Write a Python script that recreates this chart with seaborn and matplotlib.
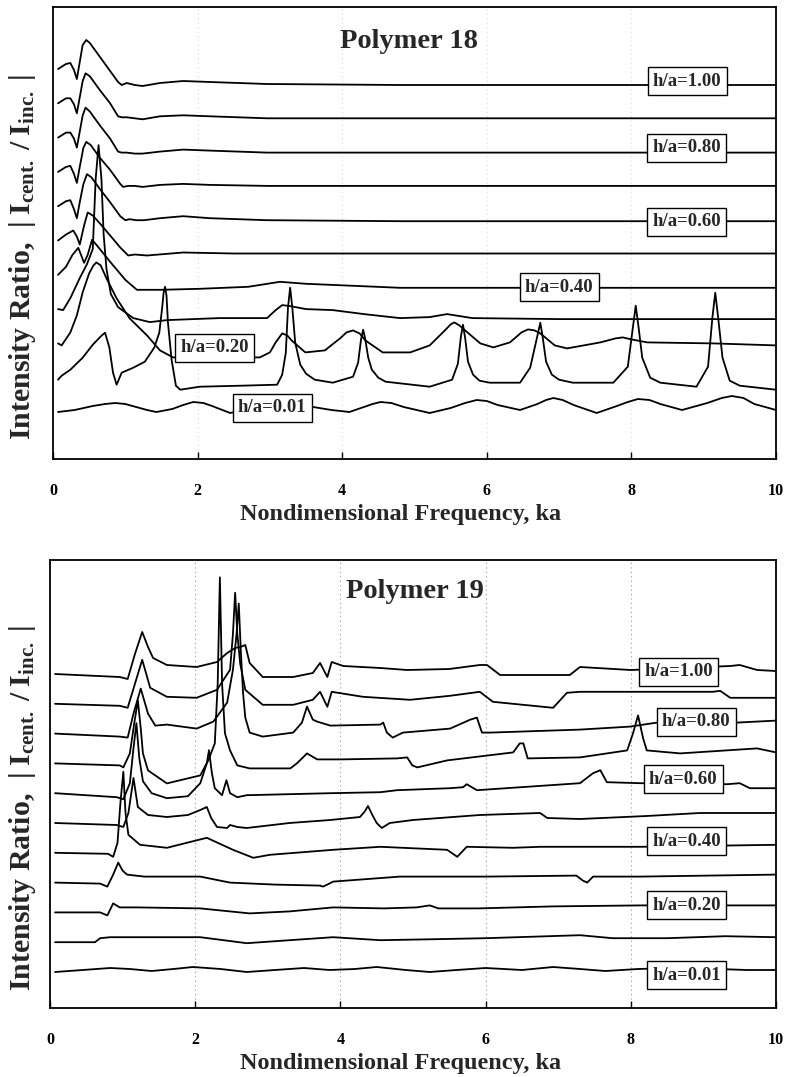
import matplotlib
matplotlib.use("Agg")
import matplotlib.pyplot as plt
import pandas as pd
import seaborn as sns

# ---------------- data ----------------
HA_LABELS = ["0.01", "0.10", "0.20", "0.30", "0.40", "0.50", "0.60", "0.70", "0.80", "0.90", "1.00"]
XTICKS = [0, 2, 4, 6, 8, 10]

# Polymer 18 (values relative to each curve's own baseline)
P18_X_001 = [0.07, 0.3, 0.55, 0.72, 0.86, 1.0, 1.15, 1.3, 1.43, 1.65, 1.8, 1.94, 2.08, 2.2, 2.45, 3.0, 3.6, 3.85, 4.1, 4.3, 4.42, 4.53, 4.68, 4.85, 5.21, 5.5, 5.7, 5.86, 6.0, 6.15, 6.46, 6.7, 6.82, 6.92, 7.05, 7.2, 7.52, 7.8, 7.95, 8.09, 8.25, 8.4, 8.7, 9.05, 9.25, 9.39, 9.55, 9.7, 10.0]
P18_Y_001 = [0, 2, 6, 8, 9, 8, 5, 2, 0, 3, 7, 10, 9, 6, -1, 8, 5, 2, 0, 5, 8, 10, 9, 5, -1, 4, 9, 12, 11, 7, 2, 8, 12, 14, 12, 7, -1, 6, 10, 13, 12, 8, 2, 9, 14, 16, 14, 8, 2]
P18_X_010 = [0.07, 0.12, 0.18, 0.24, 0.41, 0.55, 0.67, 0.72, 0.78, 0.83, 0.88, 0.95, 1.11, 1.27, 1.40, 1.47, 1.51, 1.53, 1.55, 1.57, 1.59, 1.64, 1.70, 1.76, 2.03, 2.6, 3.10, 3.17, 3.22, 3.25, 3.28, 3.31, 3.35, 3.42, 3.5, 3.62, 3.87, 4.15, 4.22, 4.26, 4.29, 4.32, 4.36, 4.41, 4.5, 4.60, 5.21, 5.52, 5.60, 5.64, 5.67, 5.70, 5.74, 5.81, 5.9, 6.04, 6.46, 6.60, 6.70, 6.74, 6.77, 6.82, 6.90, 7.0, 7.19, 7.75, 7.95, 8.02, 8.06, 8.10, 8.15, 8.26, 8.4, 8.90, 9.06, 9.12, 9.16, 9.20, 9.26, 9.36, 9.5, 10.0]
P18_Y_010 = [-2, 2, 5, 8, 20, 33, 42, 45, 30, 5, -7, 5, 10, 16, 30, 45, 70, 85, 91, 82, 55, 18, -8, -12, -9, -8, -7, 3, 25, 70, 90, 70, 35, 13, 4, -2, -5, 1, 15, 38, 48, 38, 20, 8, 0, -4, -9, -2, 14, 40, 53, 40, 16, 3, -3, -5, -5, 10, 42, 55, 42, 16, 3, -2, -5, -5, 11, 50, 72, 50, 20, 0, -5, -9, 11, 60, 85, 60, 20, -3, -8, -12]
P18_X_020 = [0.07, 0.12, 0.24, 0.33, 0.41, 0.50, 0.56, 0.60, 0.66, 0.74, 0.88, 1.06, 1.30, 1.48, 1.66, 2.20, 2.86, 3.00, 3.08, 3.17, 3.24, 3.30, 3.49, 3.76, 3.97, 4.06, 4.15, 4.24, 4.32, 4.56, 4.94, 5.21, 5.42, 5.50, 5.55, 5.62, 5.70, 5.91, 6.09, 6.32, 6.48, 6.57, 6.66, 6.74, 6.94, 7.11, 7.57, 7.78, 7.88, 8.0, 8.22, 9.13, 10.0]
P18_Y_020 = [0, -2, 11, 28, 51, 70, 78, 81, 78, 65, 45, 25, 8, -7, -14, -14, -14, -9, 1, 10, 8, 3, -9, -7, 5, 11, 13, 10, 3, -9, -9, -2, 13, 19, 21, 18, 13, 0, -4, 1, 11, 14, 13, 10, -2, -5, 1, 5, 6, 4, 1, 0, -2]
P18_X_030 = [0.07, 0.14, 0.24, 0.37, 0.47, 0.55, 0.59, 0.63, 0.67, 0.70, 0.74, 0.80, 0.90, 1.11, 1.34, 1.58, 2.30, 2.96, 3.08, 3.17, 3.28, 3.50, 3.87, 4.30, 4.80, 5.21, 5.45, 5.80, 7.0, 10.0]
P18_Y_030 = [0, -1, 11, 31, 45, 60, 130, 164, 130, 75, 40, 15, 2, -9, -13, -11, -9, -9, -1, 4, 3, 0, -1, -5, -9, -8, -5, -9, -10, -10]
P18_X_040 = [0.07, 0.18, 0.27, 0.35, 0.43, 0.48, 0.54, 0.60, 0.79, 1.00, 1.16, 1.50, 2.03, 2.70, 3.14, 3.50, 3.83, 4.80, 10.0]
P18_Y_040 = [0, 8, 20, 27, 12, 20, 35, 30, 13, -5, -15, -15, -14, -12, -7, -9, -10, -13, -13]
P18_X_050 = [0.07, 0.18, 0.28, 0.33, 0.37, 0.43, 0.48, 0.55, 0.65, 0.79, 0.93, 1.04, 1.13, 1.30, 1.80, 2.5, 4.8, 10.0]
P18_Y_050 = [0, 6, 10, 4, -4, 15, 28, 25, 17, 5, -7, -15, -14, -15, -12, -13, -13, -13]
P18_X_060 = [0.07, 0.18, 0.24, 0.29, 0.33, 0.37, 0.42, 0.47, 0.53, 0.65, 0.79, 0.93, 1.00, 1.06, 1.15, 1.26, 1.48, 1.80, 2.17, 2.96, 4.80, 10.0]
P18_Y_060 = [0, 5, 6, -3, -12, 4, 22, 32, 29, 17, 4, -10, -14, -13, -14, -14, -12, -10, -12, -14, -15, -15]
P18_X_070 = [0.07, 0.18, 0.24, 0.29, 0.33, 0.37, 0.42, 0.46, 0.52, 0.65, 0.79, 0.93, 0.97, 1.04, 1.13, 1.24, 1.48, 1.80, 2.17, 2.96, 4.80, 10.0]
P18_Y_070 = [0, 5, 6, -2, -11, 5, 24, 30, 27, 14, 2, -12, -15, -14, -14, -15, -13, -12, -13, -14, -14, -14]
P18_X_080 = [0.07, 0.18, 0.24, 0.29, 0.33, 0.37, 0.41, 0.45, 0.51, 0.65, 0.79, 0.90, 0.95, 1.02, 1.13, 1.24, 1.48, 1.80, 2.17, 2.96, 4.80, 10.0]
P18_Y_080 = [0, 5, 5, -1, -10, 6, 22, 30, 26, 12, -1, -14, -15, -15, -16, -16, -14, -12, -13, -15, -15, -15]
P18_X_090 = [0.07, 0.18, 0.24, 0.29, 0.33, 0.37, 0.41, 0.45, 0.51, 0.65, 0.79, 0.90, 0.95, 1.02, 1.13, 1.24, 1.48, 1.80, 2.17, 2.96, 4.80, 10.0]
P18_Y_090 = [0, 5, 5, -1, -10, 6, 22, 30, 27, 13, 0, -13, -14, -14, -15, -16, -13, -12, -13, -15, -15, -15]
P18_X_100 = [0.07, 0.18, 0.24, 0.29, 0.33, 0.37, 0.41, 0.46, 0.51, 0.65, 0.79, 0.90, 0.95, 1.02, 1.13, 1.24, 1.48, 1.80, 2.17, 2.96, 4.80, 10.0]
P18_Y_100 = [0, 5, 6, -1, -10, 7, 24, 29, 26, 12, -2, -13, -16, -14, -16, -17, -14, -12, -13, -15, -16, -16]

# Polymer 19
P19_X_001 = [0.07, 0.45, 0.83, 1.1, 1.4, 1.7, 1.97, 2.35, 2.71, 3.1, 3.5, 3.85, 4.2, 4.5, 4.9, 5.23, 5.6, 6.0, 6.5, 6.93, 7.3, 7.65, 8.1, 8.6, 9.2, 9.6, 10.0]
P19_Y_001 = [0, 2, 4, 3, 1, 3, 5, 3, 0, 2, 4, 2, 3, 5, 2, 0, 2, 4, 2, 5, 3, 1, 3, 4, 3, 2, 2]
P19_X_010 = [0.07, 0.62, 0.69, 0.83, 1.3, 2.07, 2.71, 3.3, 3.90, 4.55, 5.3, 6.0, 7.30, 7.75, 8.5, 9.3, 10.0]
P19_Y_010 = [0, 0, 4, 5, 5, 5, -1, 2, 5, 2, 3, 4, 7, 4, 4, 6, 5]
P19_X_020 = [0.07, 0.69, 0.79, 0.87, 0.96, 1.2, 2.07, 2.75, 3.3, 3.90, 4.6, 5.05, 5.23, 5.35, 5.9, 6.93, 8.13, 10.0]
P19_Y_020 = [0, 0, -3, 9, 5, 5, 4, -1, 1, 5, 4, 5, 7, 4, 4, 6, 7, 7]
P19_X_030 = [0.07, 0.69, 0.79, 0.87, 0.94, 1.00, 1.06, 1.30, 2.07, 2.48, 3.10, 3.72, 3.76, 3.82, 3.90, 4.82, 6.0, 7.25, 7.34, 7.40, 7.48, 8.13, 10.0]
P19_Y_030 = [0, -1, -4, 8, 20, 12, 8, 6, 6, 0, -2, -3, -4, -2, 1, 6, 6, 7, 2, 0, 6, 6, 8]
P19_X_040 = [0.07, 0.80, 0.87, 0.93, 0.97, 1.01, 1.04, 1.08, 1.24, 1.61, 2.16, 2.52, 2.80, 3.03, 3.90, 4.55, 5.47, 5.61, 5.74, 6.38, 6.75, 8.13, 10.0]
P19_Y_040 = [0, -1, -4, 10, 50, 81, 40, 18, 8, 5, 15, 3, -5, -2, 3, 6, 3, -4, 6, 5, 6, 6, 8]
P19_X_050 = [0.07, 0.92, 1.01, 1.08, 1.15, 1.21, 1.35, 1.61, 1.90, 2.07, 2.16, 2.22, 2.30, 2.44, 2.48, 2.58, 2.71, 3.3, 3.86, 4.27, 4.34, 4.38, 4.44, 4.50, 4.57, 4.68, 5.0, 5.92, 6.75, 6.85, 7.30, 8.22, 8.95, 10.0]
P19_Y_050 = [0, -2, -4, 10, 45, 16, 8, 6, 8, 13, 16, 5, -4, -5, -2, -4, -5, 0, 3, 6, 12, 17, 8, 0, -5, 0, 3, 8, 10, 5, 4, 7, 10, 10]
P19_X_060 = [0.07, 0.92, 1.01, 1.10, 1.15, 1.19, 1.23, 1.28, 1.40, 1.61, 1.90, 2.07, 2.16, 2.19, 2.23, 2.27, 2.37, 2.43, 2.48, 2.58, 2.71, 3.86, 4.55, 4.78, 5.51, 5.69, 5.74, 5.88, 7.30, 7.48, 7.58, 7.67, 8.13, 9.33, 9.50, 9.64, 10.0]
P19_Y_060 = [0, -4, -6, 10, 45, 70, 35, 12, 0, -5, -3, 10, 30, 43, 20, 5, -2, 13, 0, -4, -2, 0, 1, 3, 5, 6, 9, 3, 10, 20, 23, 11, 10, 9, 10, 5, 5]
P19_X_070 = [0.07, 0.96, 1.01, 1.10, 1.16, 1.21, 1.25, 1.28, 1.35, 1.61, 2.07, 2.18, 2.27, 2.31, 2.34, 2.37, 2.41, 2.48, 2.58, 2.75, 3.31, 3.40, 3.54, 3.68, 4.00, 4.78, 4.92, 4.99, 5.06, 5.47, 6.38, 6.47, 6.52, 6.58, 7.30, 7.95, 8.03, 8.10, 8.17, 8.22, 8.68, 9.74, 10.0]
P19_Y_070 = [0, -2, -4, 10, 40, 63, 35, 10, -7, -20, -12, 3, 20, 80, 186, 80, 30, 13, -2, -5, -5, 0, 10, 4, 4, 5, 6, -2, -4, 3, 11, 20, 20, 5, 6, 13, 30, 48, 25, 13, 10, 15, 11]
P19_X_080 = [0.07, 0.96, 1.07, 1.15, 1.25, 1.35, 1.45, 1.61, 2.02, 2.25, 2.44, 2.52, 2.57, 2.60, 2.63, 2.66, 2.69, 2.75, 2.93, 3.35, 3.47, 3.54, 3.62, 3.68, 3.86, 4.55, 4.59, 4.64, 4.72, 4.86, 5.51, 5.79, 5.88, 5.95, 6.06, 7.30, 7.99, 8.36, 9.46, 10.0]
P19_Y_080 = [0, -3, -4, 20, 45, 20, 8, 9, 5, 12, 31, 64, 100, 130, 80, 40, 16, 1, -3, 1, 11, 27, 14, 12, 8, 9, 11, 1, -4, 1, 5, 14, 16, 1, 1, 4, 7, 11, 11, 13]
P19_X_090 = [0.07, 0.96, 1.07, 1.17, 1.27, 1.38, 1.61, 2.02, 2.30, 2.48, 2.52, 2.55, 2.58, 2.62, 2.69, 2.93, 3.35, 3.62, 3.72, 3.82, 3.88, 4.31, 4.96, 5.51, 5.92, 6.10, 6.93, 7.12, 7.30, 9.13, 9.23, 9.37, 10.0]
P19_Y_090 = [0, -2, -4, 20, 44, 16, 7, 6, 14, 34, 70, 111, 70, 40, 14, -1, -1, 4, 12, -3, 12, 7, 4, 8, 12, 2, -4, 11, 12, 12, 13, 6, 6]
P19_X_100 = [0.07, 0.96, 1.07, 1.17, 1.27, 1.35, 1.42, 1.61, 2.02, 2.30, 2.44, 2.55, 2.62, 2.69, 2.75, 2.93, 3.35, 3.62, 3.72, 3.82, 3.88, 4.04, 4.55, 4.92, 5.5, 5.92, 6.02, 6.20, 7.16, 7.30, 8.0, 9.37, 9.50, 9.74, 10.0]
P19_Y_100 = [0, -3, -5, 20, 42, 27, 16, 9, 7, 12, 21, 26, 27, 29, 11, -3, -3, 1, 11, -3, 12, 8, 6, 4, 5, 9, 9, -1, -1, 7, 4, 8, 9, 4, 3]

P18_X = [P18_X_001, P18_X_010, P18_X_020, P18_X_030, P18_X_040, P18_X_050, P18_X_060, P18_X_070, P18_X_080, P18_X_090, P18_X_100]
P18_Y = [P18_Y_001, P18_Y_010, P18_Y_020, P18_Y_030, P18_Y_040, P18_Y_050, P18_Y_060, P18_Y_070, P18_Y_080, P18_Y_090, P18_Y_100]
P19_X = [P19_X_001, P19_X_010, P19_X_020, P19_X_030, P19_X_040, P19_X_050, P19_X_060, P19_X_070, P19_X_080, P19_X_090, P19_X_100]
P19_Y = [P19_Y_001, P19_Y_010, P19_Y_020, P19_Y_030, P19_Y_040, P19_Y_050, P19_Y_060, P19_Y_070, P19_Y_080, P19_Y_090, P19_Y_100]

# labelled curves and where their tags sit (x in ka, y in plot units)
P18_TAGS = [("1.00", 8.77, 378), ("0.80", 8.76, 311), ("0.60", 8.76, 237), ("0.40", 7.0, 172), ("0.20", 2.24, 111), ("0.01", 3.03, 51)]
P19_TAGS = [("1.00", 8.66, 336), ("0.80", 8.90, 286), ("0.60", 8.72, 229), ("0.40", 8.77, 167), ("0.20", 8.77, 103), ("0.01", 8.77, 33)]

# ---------------- style ----------------
sns.set_theme(style="white")
plt.rcParams["font.family"] = ["Liberation Serif", "DejaVu Serif"]
plt.rcParams["font.weight"] = "bold"
plt.rcParams["mathtext.fontset"] = "custom"
plt.rcParams["mathtext.rm"] = "Liberation Serif:bold"
plt.rcParams["mathtext.bf"] = "Liberation Serif:bold"
plt.rcParams["mathtext.it"] = "Liberation Serif:bold:italic"

W, H = 787, 1077
fig = plt.figure(figsize=(W / 100, H / 100), dpi=100)
fig.patch.set_facecolor("white")
ax1 = fig.add_axes([53 / W, 1 - 459 / H, (776 - 53) / W, (459 - 7) / H])
ax2 = fig.add_axes([50 / W, 1 - 1008 / H, (776 - 50) / W, (1008 - 560) / H])

YLABEL = r"Intensity Ratio,  $|\;\mathbf{I}_{\mathbf{cent.}}\;/\;\mathbf{I}_{\mathbf{inc.}}\;|$"


def build(xs, ys, start, step):
    rows = []
    for k, (x, y) in enumerate(zip(xs, ys)):
        for xi, yi in zip(x, y):
            rows.append((HA_LABELS[k], xi, yi + start + step * k))
    return pd.DataFrame(rows, columns=["ha", "x", "y"])


def draw(ax, df, tags, title, ylim, grid_color, title_pos):
    for gx in [2, 4, 6, 8]:
        ax.axvline(gx, color=grid_color, lw=0.8, ls=(0, (1, 3)), zorder=0)
    sns.lineplot(data=df, x="x", y="y", units="ha", estimator=None, sort=False,
                 color="black", linewidth=1.3, legend=False, ax=ax, zorder=2)
    for lab, tx, ty in tags:
        ax.text(tx, ty, f"h/a={lab}", ha="center", va="center", fontsize=13.5, fontweight="bold",
                zorder=5, bbox=dict(boxstyle="square,pad=0.28", fc="white", ec="black", lw=1.0))
    ax.text(title_pos[0], title_pos[1], title, transform=ax.transAxes, ha="center", va="baseline",
            fontsize=20.5, fontweight="bold")
    ax.set_xlim(0, 10)
    ax.set_ylim(*ylim)
    ax.set_xticks(XTICKS)
    ax.set_xticklabels([str(t) for t in XTICKS])
    ax.set_yticks([])
    ax.tick_params(axis="x", direction="in", length=5, width=1.0, pad=17, labelsize=11.5, colors="black", bottom=True)
    for s in ax.spines.values():
        s.set_visible(True)
        s.set_color("black")
        s.set_linewidth(1.3)
    ax.set_xlabel("Nondimensional Frequency, ka", fontsize=17.5, fontweight="bold")
    ax.set_ylabel(YLABEL, fontsize=21.5, fontweight="bold")
    for t in ax.get_xticklabels():
        t.set_fontweight("bold")


df18 = build(P18_X, P18_Y, 47, 34.3)
df19 = build(P19_X, P19_Y, 36, 29.8)
draw(ax1, df18, P18_TAGS, "Polymer 18", (0, 452), "#d8d8d8", (0.492, 0.909))
draw(ax2, df19, P19_TAGS, "Polymer 19", (0, 448), "#9a9a9a", (0.503, 0.915))

ax1.xaxis.set_label_coords(0.481, -0.1)
ax2.xaxis.set_label_coords(0.483, -0.1)
ax1.yaxis.set_label_coords(-0.0205, 0.447)
ax2.yaxis.set_label_coords(-0.0165, 0.446)

fig.savefig("out.png", dpi=100, facecolor="white")
